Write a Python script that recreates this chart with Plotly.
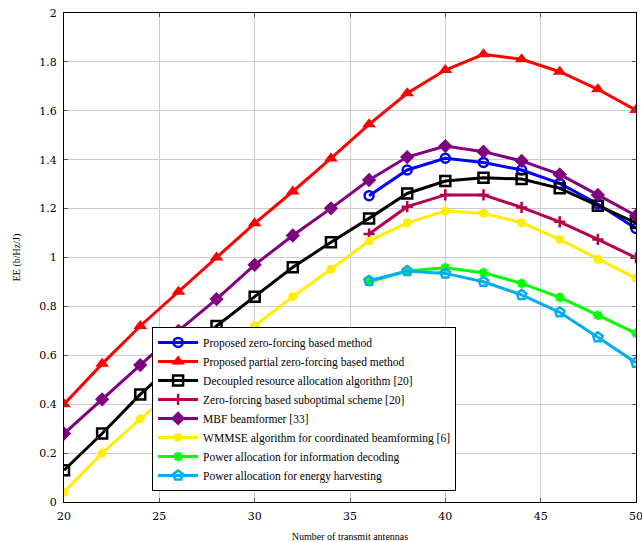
import plotly.graph_objects as go

x_full = [20, 22, 24, 26, 28, 30, 32, 34, 36, 38, 40, 42, 44, 46, 48, 50]
x_part = [36, 38, 40, 42, 44, 46, 48, 50]

zf_proposed = [1.253, 1.358, 1.406, 1.389, 1.358, 1.303, 1.219, 1.119]
pzf_proposed = [0.40, 0.565, 0.72, 0.86, 1.00, 1.14, 1.27, 1.405, 1.545, 1.672, 1.767, 1.831, 1.811, 1.760, 1.688, 1.603]
decoupled = [0.13, 0.28, 0.44, 0.58, 0.72, 0.84, 0.96, 1.062, 1.160, 1.262, 1.313, 1.326, 1.321, 1.283, 1.212, 1.142]
zf_subopt = [1.096, 1.208, 1.256, 1.256, 1.205, 1.146, 1.074, 0.999]
mbf = [0.28, 0.42, 0.56, 0.70, 0.83, 0.97, 1.09, 1.201, 1.317, 1.411, 1.456, 1.433, 1.395, 1.340, 1.256, 1.171]
wmmse = [0.04, 0.20, 0.34, 0.47, 0.60, 0.72, 0.84, 0.952, 1.067, 1.142, 1.190, 1.181, 1.142, 1.074, 0.993, 0.915]
info_dec = [0.901, 0.945, 0.958, 0.938, 0.894, 0.837, 0.764, 0.690]
energy_h = [0.905, 0.945, 0.935, 0.901, 0.847, 0.776, 0.674, 0.570]

x_ticks = [20, 25, 30, 35, 40, 45, 50]
y_ticks = [0, 0.2, 0.4, 0.6, 0.8, 1, 1.2, 1.4, 1.6, 1.8, 2]
y_tick_labels = ["0", "0.2", "0.4", "0.6", "0.8", "1", "1.2", "1.4", "1.6", "1.8", "2"]

series = [
    ("Proposed zero-forcing based method", x_part, zf_proposed, "#0000ff", "circle-open", 9, 2.5),
    ("Proposed partial zero-forcing based method", x_full, pzf_proposed, "#ff0000", "triangle-up", 12, 0),
    ("Decoupled resource allocation algorithm [20]", x_full, decoupled, "#000000", "square-open", 10, 2.5),
    ("Zero-forcing based suboptimal scheme [20]", x_part, zf_subopt, "#b5004e", "cross-thin-open", 8, 2.5),
    ("MBF beamformer [33]", x_full, mbf, "#800080", "diamond", 11, 0),
    ("WMMSE algorithm for coordinated beamforming [6]", x_full, wmmse, "#ffee00", "circle", 9, 0),
    ("Power allocation for information decoding", x_part, info_dec, "#00ff00", "asterisk-open", 8, 2.5),
    ("Power allocation for energy harvesting", x_part, energy_h, "#00aeef", "pentagon-open", 10, 2.5),
]

fig = go.Figure()
for name, xs, ys, col, sym, sz, lw in series:
    fig.add_trace(go.Scatter(
        x=xs, y=ys, name=name, mode="lines+markers",
        line=dict(color=col, width=3),
        marker=dict(symbol=sym, size=sz, color=col, line=dict(color=col, width=lw)),
    ))

axis_common = dict(
    showgrid=True, gridcolor="#cccccc", gridwidth=1,
    showline=True, linecolor="#000000", linewidth=1.2, mirror="ticks",
    ticks="inside", ticklen=4, tickcolor="#555555",
    zeroline=False, automargin=False,
    ticklabeloverflow="allow",
    tickfont=dict(family="DejaVu Serif", size=11, color="#000000"),
)

fig.update_layout(
    width=642, height=542,
    margin=dict(l=64, r=6, t=13, b=40),
    paper_bgcolor="white", plot_bgcolor="white",
    font=dict(family="Liberation Serif", color="#000000"),
    xaxis=dict(range=[20, 50.0001], tickvals=x_ticks, ticklabelstandoff=4,
               title=dict(text="Number of transmit antennas", font=dict(family="Liberation Serif", size=10), standoff=12),
               **axis_common),
    yaxis=dict(range=[0, 2.0001], tickvals=y_ticks, ticktext=y_tick_labels, ticklabelstandoff=4,
               title=dict(text="EE (b/Hz/J)", font=dict(family="Liberation Serif", size=10), standoff=16),
               **axis_common),
    legend=dict(
        x=0.154, y=0.358, xanchor="left", yanchor="top",
        bgcolor="white", bordercolor="#000000", borderwidth=1,
        font=dict(family="Liberation Serif", size=11.5, color="#000000"),
        itemwidth=40, tracegroupgap=0,
    ),
    showlegend=True,
)

fig.write_html("out.html")
